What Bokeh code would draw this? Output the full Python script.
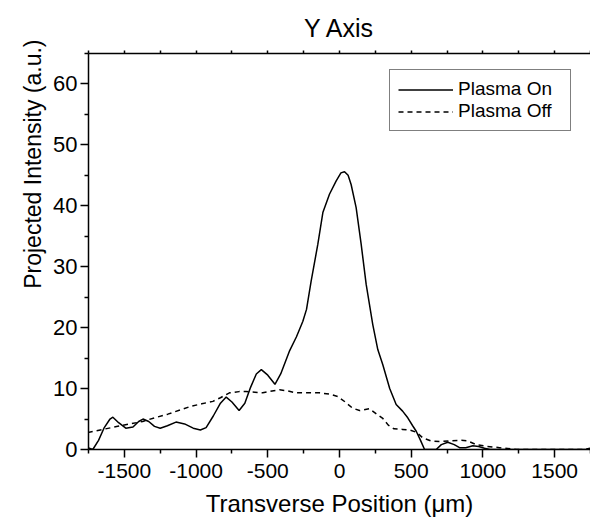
from bokeh.plotting import figure
from bokeh.models import Range1d, FixedTicker, LinearAxis, Legend, LegendItem, Title
from bokeh.embed import file_html
from bokeh.resources import INLINE

# ---- data ----
x_on = [-1755, -1720, -1680, -1640, -1600, -1580, -1540, -1490, -1440, -1400,
        -1370, -1330, -1290, -1250, -1200, -1140, -1080, -1020, -970, -930,
        -880, -830, -790, -750, -700, -660, -620, -580, -545, -500,
        -450, -410, -350, -300, -256, -230, -198, -151, -116, -70,
        -23, 10, 35, 60, 81, 116, 151, 186, 232, 267,
        302, 350, 395, 440, 476, 510, 535, 565, 593, 674,
        710, 755, 800, 837, 880, 930, 970, 1011, 1050, 1750]
y_on = [0.3, 0.0, 1.5, 3.6, 5.0, 5.3, 4.4, 3.5, 3.7, 4.6,
        5.0, 4.6, 3.8, 3.5, 3.9, 4.5, 4.2, 3.5, 3.2, 3.6,
        5.5, 7.6, 8.6, 7.8, 6.4, 7.6, 10.2, 12.4, 13.1, 12.2,
        10.7, 12.4, 16.1, 18.5, 21.0, 23.0, 27.6, 33.7, 38.9, 41.9,
        44.1, 45.4, 45.6, 45.0, 43.5, 39.7, 33.7, 27.1, 20.5, 16.4,
        13.9, 10.0, 7.4, 6.3, 5.2, 3.9, 3.0, 1.5, 0.0, 0.0,
        0.8, 1.2, 0.8, 0.3, 0.3, 0.6, 0.5, 0.2, 0.0, 0.0]

x_off = [-1755, -1650, -1546, -1460, -1372, -1290, -1197, -1110, -1034, -960,
         -883, -830, -767, -700, -651, -590, -535, -470, -418, -360,
         -302, -220, -139, -70, -12, 40, 90, 140, 209, 260,
         302, 340, 380, 440, 488, 540, 581, 640, 697, 767,
         850, 895, 953, 1030, 1116, 1232, 1700, 1750]
y_off = [2.8, 3.3, 3.8, 4.2, 4.6, 5.2, 5.8, 6.5, 7.1, 7.5,
         7.9, 8.5, 9.3, 9.5, 9.5, 9.4, 9.3, 9.6, 9.8, 9.6,
         9.3, 9.3, 9.3, 9.1, 8.7, 7.8, 6.8, 6.4, 6.7, 5.8,
         5.1, 4.0, 3.4, 3.3, 3.2, 2.8, 1.9, 1.4, 1.3, 1.4,
         1.5, 1.4, 0.8, 0.5, 0.3, 0.0, 0.0, 0.2]

x_major = [-1500, -1000, -500, 0, 500, 1000, 1500]
x_tick_labels = ["-1500", "-1000", "-500", "0", "500", "1000", "1500"]
x_minor = [-1750, -1250, -750, -250, 250, 750, 1250, 1750]
y_major = [0, 10, 20, 30, 40, 50, 60]
y_minor = [5, 15, 25, 35, 45, 55, 65]

series_labels = ["Plasma On", "Plasma Off"]
title_text = "Y Axis"
x_label = "Transverse Position (\u03bcm)"
y_label = "Projected Intensity (a.u.)"

FONT = "Liberation Sans"

p = figure(width=590, height=519, output_backend="svg", toolbar_location=None,
           x_range=Range1d(-1750, 1750), y_range=Range1d(0, 65),
           min_border_left=88, min_border_right=0, min_border_top=53,
           min_border_bottom=60)
p.grid.visible = False
p.outline_line_color = None
p.background_fill_color = "white"
p.border_fill_color = "white"

# title
p.title.text = title_text
p.title.align = "center"
p.title.vertical_align = "top"
p.title.text_font = FONT
p.title.text_font_size = "25px"
p.title.text_font_style = "normal"
p.title.text_color = "black"
p.title.standoff = 14

def style_axis(ax, tick_size):
    ax.axis_line_width = 1.5
    ax.axis_line_color = "black"
    ax.major_tick_line_width = 1.5
    ax.minor_tick_line_width = 1.5
    ax.major_tick_line_color = "black"
    ax.minor_tick_line_color = "black"
    ax.major_tick_in = 0
    ax.minor_tick_in = 0
    ax.major_tick_out = 8
    ax.minor_tick_out = 4
    ax.major_label_text_font = FONT
    ax.major_label_text_font_size = tick_size
    ax.major_label_text_color = "black"
    ax.axis_label_text_font = FONT
    ax.axis_label_text_font_size = "24px"
    ax.axis_label_text_font_style = "normal"
    ax.axis_label_text_color = "black"

xa = p.xaxis[0]
xa.ticker = FixedTicker(ticks=x_major, minor_ticks=x_minor)
style_axis(xa, "21px")
xa.major_label_overrides = {t: s for t, s in zip(x_major, x_tick_labels)}
xa.major_label_standoff = 6
xa.axis_label = x_label
xa.axis_label_standoff = 9

ya = p.yaxis[0]
ya.ticker = FixedTicker(ticks=y_major, minor_ticks=y_minor)
style_axis(ya, "22px")
ya.major_label_standoff = 3

# top frame line: ticks only (as minor ticks, so no labels are produced)
top = LinearAxis(ticker=FixedTicker(ticks=[], minor_ticks=x_major + x_minor))
style_axis(top, "21px")
top.minor_tick_out = 3
top.major_label_standoff = 0
p.add_layout(top, "above")

ylab = Title(text=y_label, align="right", text_font=FONT, text_font_size="23px",
             text_font_style="normal", text_color="black", offset=-14)
p.add_layout(ylab, "left")

r_on = p.line(x_on, y_on, line_color="black", line_width=1.5)
r_off = p.line(x_off, y_off, line_color="black", line_width=1.5, line_dash="5 4")

legend = Legend(items=[LegendItem(label=series_labels[0], renderers=[r_on]),
                       LegendItem(label=series_labels[1], renderers=[r_off])],
                location=(301, 318))
legend.border_line_color = "black"
legend.border_line_width = 1
legend.background_fill_color = "white"
legend.background_fill_alpha = 1
legend.label_text_font = FONT
legend.label_text_font_size = "19px"
legend.label_text_color = "black"
legend.glyph_width = 55
legend.glyph_height = 21
legend.label_height = 21
legend.label_width = 104
legend.label_standoff = 5
legend.padding = 8
legend.spacing = 0
legend.margin = 0
p.add_layout(legend)

open("out.html", "w").write(file_html(p, INLINE))
